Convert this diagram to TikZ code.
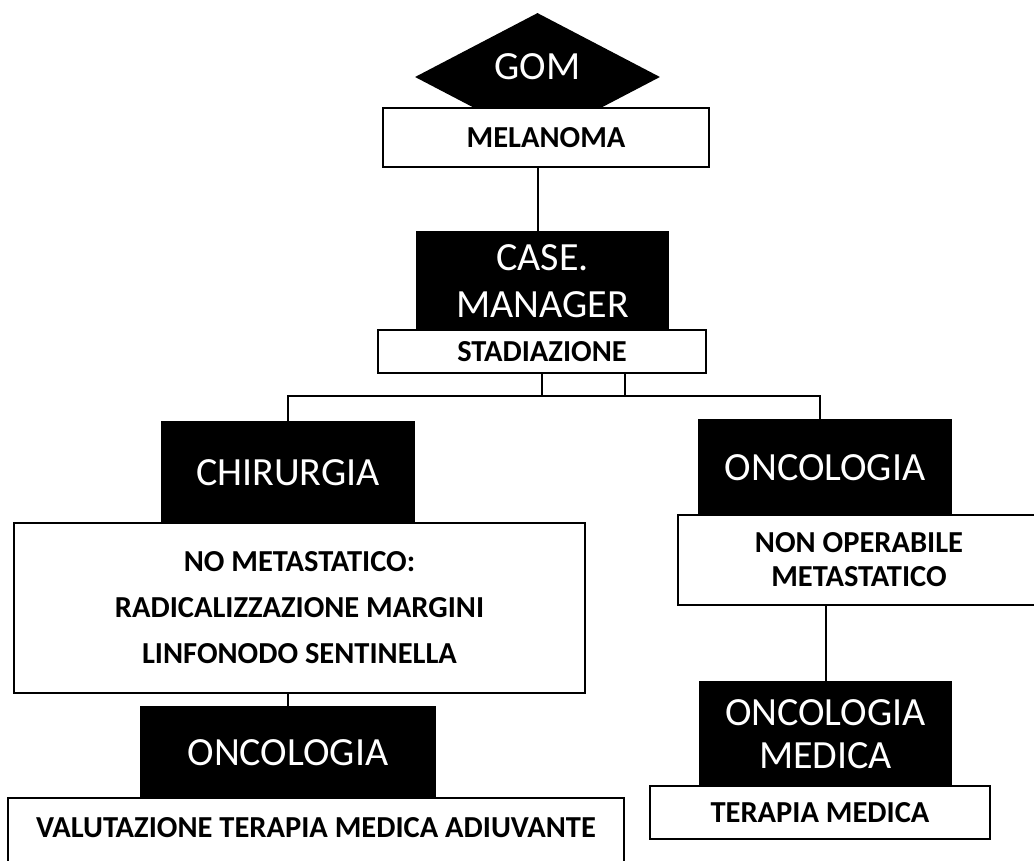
\documentclass[tikz,border=0pt]{standalone}
\usepackage{fontspec}
\setmainfont{Carlito}
\usetikzlibrary{shapes.geometric, calc}

\tikzset{
  darkbox/.style={draw=black, fill=black, text=white, line width=2.5pt, inner sep=0pt, align=center, font=\fontsize{40}{47}\selectfont},
  lightbox/.style={draw=black, fill=white, line width=2.5pt, inner sep=0pt, align=center, font=\fontsize{30.5}{46}\selectfont\bfseries},
  gomshape/.style={diamond, fill=black, inner sep=0pt, minimum width=245, minimum height=128},
  wire/.style={line width=2pt},
}

\begin{document}
\begin{tikzpicture}[x=1pt, y=-1pt]
  \useasboundingbox (0,0) rectangle (1034,860);
  \clip (0,0) rectangle (1034,860);

  % testa
  \node[gomshape] (gom) at (537.5,77) {};
  \node[text=white, inner sep=0pt, font=\fontsize{40}{47}\selectfont] (gomtext) at ($ (gom.center)+(0,-10) $) {GOM};
  \node[lightbox, minimum width=326, minimum height=59] (melanoma) at (546,137.5) {MELANOMA};
  \node[darkbox, minimum width=251, minimum height=98] (case) at (542.5,281) {CASE.\\MANAGER};
  \node[lightbox, minimum width=328, minimum height=43] (stadiazione) at (542,351.5) {STADIAZIONE};

  % ramo chirurgico
  \node[darkbox, minimum width=252, minimum height=101] (chirurgia) at (288,472.5) {CHIRURGIA};
  \node[lightbox, minimum width=571, minimum height=170] (nometa) at (299.5,608) {NO METASTATICO:\\RADICALIZZAZIONE MARGINI\\LINFONODO SENTINELLA};
  \node[darkbox, minimum width=294, minimum height=92] (oncoadiu) at (288,753) {ONCOLOGIA};
  \node[lightbox, minimum width=616, minimum height=72, text depth=14pt] (valutazione) at (316,834) {VALUTAZIONE TERAPIA MEDICA ADIUVANTE};

  % ramo oncologico
  \node[darkbox, minimum width=252, minimum height=95] (oncologia) at (825,467.5) {ONCOLOGIA};
  \node[lightbox, minimum width=362, minimum height=90, font=\fontsize{30.5}{34}\selectfont\bfseries] (nonop) at (859,560) {NON OPERABILE\\METASTATICO};
  \node[darkbox, minimum width=251, minimum height=104, font=\fontsize{40}{43}\selectfont] (oncomed) at (825.5,734) {ONCOLOGIA\\MEDICA};
  \node[lightbox, minimum width=340, minimum height=53] (terapia) at (820,812.5) {TERAPIA MEDICA};

  % collegamenti
  \coordinate (bus) at (0,396);
  \coordinate (stadtwo) at ($ (stadiazione.south)+(83,0) $);
  \coordinate (busright) at ($ (oncologia.north)+(-5,0) $);
  \draw[wire] (gom.center |- melanoma.south) -- (gom.center |- case.north);
  \draw[wire] (stadiazione.south) -- (stadiazione.south |- bus);
  \draw[wire] (stadtwo) -- (stadtwo |- bus);
  \draw[wire] (chirurgia.north) -- (chirurgia.north |- bus) -- (busright |- bus) -- (busright);
  \draw[wire] (oncoadiu.north |- nometa.south) -- (oncoadiu.north);
  \draw[wire] (oncomed.north |- nonop.south) -- (oncomed.north);
\end{tikzpicture}
\end{document}
